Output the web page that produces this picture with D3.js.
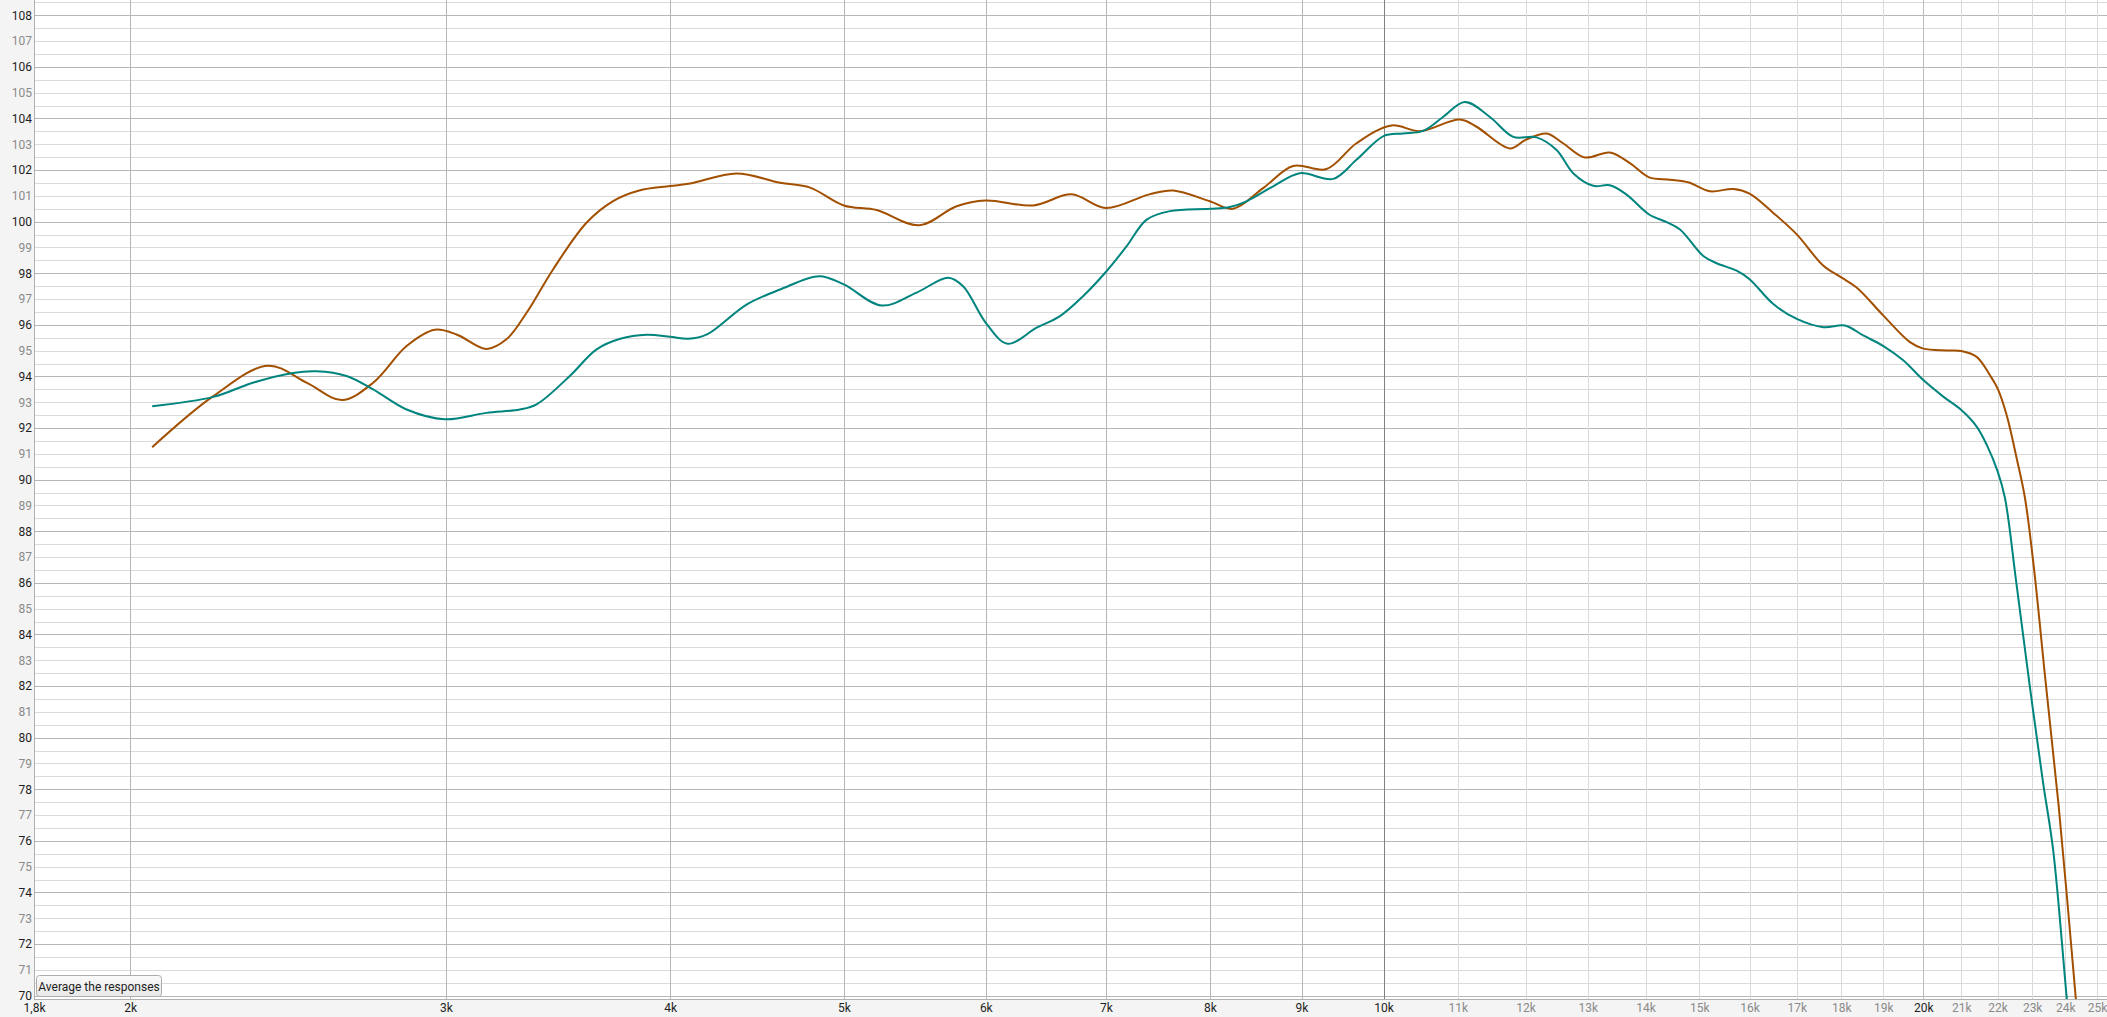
<!DOCTYPE html>
<html>
<head>
<meta charset="utf-8">
<script src="https://cdn.jsdelivr.net/npm/d3@7"></script>
<style>
  html, body { margin: 0; padding: 0; background: #f4f4f4; }
  svg { display: block; font-family: Roboto, "Noto Sans", sans-serif; }
</style>
</head>
<body>
<div id="chart"></div>
<script>
// frequency response, two measurements (Hz / dB SPL)
const brownFreq = [2057, 2225, 2387, 2508, 2625, 2732, 2852, 2957, 3041, 3160, 3242, 3327, 3442, 3593, 3718, 3845, 4000, 4105, 4357, 4607,
  4788, 5000, 5215, 5508, 5779, 6000, 6377, 6699, 7000, 7402, 7632, 8000, 8243, 8567, 8903, 9293, 9658, 10102, 10476, 11029,
  11268, 11761, 12000, 12328, 12593, 12949, 13372, 13720, 14064, 14447, 14800, 15207, 15669, 16000, 16495, 17000, 17592, 18000, 18358, 19000,
  19659, 20000, 20608, 21000, 21418, 21786, 22000, 22258, 22545, 22787, 23050, 23390, 23793, 24318, 24600];
const brownDb = [91.26, 93.24, 94.42, 93.76, 93.09, 93.76, 95.18, 95.81, 95.63, 95.07, 95.44, 96.47, 98.15, 99.96, 100.8, 101.21, 101.38, 101.48, 101.87, 101.51,
  101.32, 100.63, 100.45, 99.86, 100.6, 100.82, 100.63, 101.06, 100.53, 101.06, 101.21, 100.79, 100.5, 101.3, 102.16, 102.04, 103.04, 103.73, 103.51, 103.96,
  103.68, 102.84, 103.17, 103.42, 103.04, 102.49, 102.68, 102.27, 101.72, 101.63, 101.52, 101.18, 101.27, 101.09, 100.34, 99.51, 98.29, 97.84, 97.45, 96.36,
  95.33, 95.08, 95.01, 94.99, 94.76, 94.05, 93.54, 92.51, 90.84, 89.3, 86.6, 82.3, 77.4, 70.0, 66.0];

const tealFreq = [2057, 2225, 2341, 2465, 2540, 2640, 2732, 2852, 2995, 3160, 3298, 3370, 3517, 3640, 3752, 3881, 4000, 4096, 4194, 4413,
  4607, 4845, 5000, 5249, 5490, 5717, 5828, 6000, 6170, 6405, 6600, 6800, 7000, 7190, 7377, 7600, 8000, 8209, 8386, 8678,
  8980, 9373, 9658, 10000, 10253, 10521, 10794, 11100, 11463, 11811, 12171, 12488, 12757, 13089, 13372, 13662, 14064, 14385, 14633, 15077,
  15339, 15737, 16000, 16495, 17000, 17592, 18084, 18514, 19000, 19490, 20000, 20518, 21000, 21418, 21694, 22000, 22209, 22528, 22920, 23320,
  23628, 24038, 24300];
const tealDb = [92.85, 93.21, 93.76, 94.14, 94.2, 94.02, 93.5, 92.72, 92.34, 92.59, 92.72, 92.92, 94.02, 95.05, 95.46, 95.62, 95.54, 95.46, 95.63, 96.79,
  97.37, 97.89, 97.57, 96.75, 97.25, 97.83, 97.5, 96.08, 95.27, 95.89, 96.34, 97.12, 98.05, 99.05, 100.08, 100.41, 100.5, 100.57, 100.79, 101.37,
  101.88, 101.66, 102.4, 103.32, 103.42, 103.52, 104.06, 104.64, 104.06, 103.29, 103.27, 102.78, 101.88, 101.39, 101.41, 101.05, 100.28, 99.98, 99.7, 98.67,
  98.39, 98.1, 97.77, 96.81, 96.23, 95.91, 95.98, 95.59, 95.18, 94.63, 93.86, 93.22, 92.7, 92.06, 91.36, 90.33, 89.3, 86.1, 82.1, 78.3,
  75.65, 70.0, 66.5];

// axes
const freqMin = 1767.4, freqMax = 25320;
const dbMin = 69.872, dbMax = 108.593;
const xTickFreqs = [1767.4, 2000, 3000, 4000, 5000, 6000, 7000, 8000, 9000, 10000, 11000, 12000, 13000, 14000, 15000, 16000, 17000, 18000, 19000,
  20000, 21000, 22000, 23000, 24000, 25000];
const xTickLabels = ["1,8k", "2k", "3k", "4k", "5k", "6k", "7k", "8k", "9k", "10k", "11k", "12k", "13k", "14k", "15k", "16k", "17k", "18k", "19k",
  "20k", "21k", "22k", "23k", "24k", "25k"];
const yTickValues = d3.range(70, 109);
const buttonLabel = "Average the responses";

const W = 2107, H = 1017;
const left = 34, bottom = 999;

let svg = d3.select("#chart").append("svg").attr("width", W).attr("height", H);
svg.append("rect").attr("width", W).attr("height", H).attr("fill", "#f4f4f4");
svg.append("rect").attr("x", left).attr("y", 0).attr("width", W - left).attr("height", bottom).attr("fill", "#fff");

let x = d3.scaleLog().domain([freqMin, freqMax]).range([left, W]);
let y = d3.scaleLinear().domain([dbMin, dbMax]).range([bottom, 0]);

// grid colour by line
let vColor = f => {
  if (f === 10000) return "#808080";
  if (f === 20000) return "#bdbdbd";
  if (f < 10000) return "#b6b6b6";
  return "#dadada";
};
let hColor = d => (Number.isInteger(d) && d % 2 === 0 ? "#b6b6b6" : "#dadada");

let grid = svg.append("g").attr("shape-rendering", "crispEdges");
let hLines = d3.range(70, 108.75, 0.5);
let vLines = xTickFreqs.slice(1);

// light lines first, dark on top
let hOrder = d => (hColor(d) === "#dadada" ? 0 : 1);
grid.selectAll("line.h").data(hLines.slice().sort((a, b) => hOrder(a) - hOrder(b))).join("line")
  .attr("class", "h")
  .attr("x1", left).attr("x2", W)
  .attr("y1", d => Math.round(y(d)) + 0.5).attr("y2", d => Math.round(y(d)) + 0.5)
  .attr("stroke", hColor);

let vOrder = f => (vColor(f) === "#dadada" ? 0 : vColor(f) === "#808080" ? 2 : 1);
grid.selectAll("line.v").data(vLines.slice().sort((a, b) => vOrder(a) - vOrder(b))).join("line")
  .attr("class", "v")
  .attr("y1", 0).attr("y2", bottom)
  .attr("x1", d => Math.round(x(d)) + 0.5).attr("x2", d => Math.round(x(d)) + 0.5)
  .attr("stroke", vColor);

// frame
grid.append("line").attr("x1", left + 0.5).attr("x2", left + 0.5).attr("y1", 0).attr("y2", bottom).attr("stroke", "#b0b0b0");
grid.append("line").attr("x1", left).attr("x2", W).attr("y1", bottom + 0.5).attr("y2", bottom + 0.5).attr("stroke", "#b0b0b0");

// curves
svg.append("clipPath").attr("id", "plotClip")
  .append("rect").attr("x", left).attr("y", 0).attr("width", W - left).attr("height", bottom);

let line = d3.line()
  .x(d => x(d[0]))
  .y(d => y(d[1]))
  .curve(d3.curveCatmullRom.alpha(0.5));

let series = [
  {freq: brownFreq, db: brownDb, color: "#a25000"},
  {freq: tealFreq, db: tealDb, color: "#00847e"}
];
let curves = svg.append("g").attr("clip-path", "url(#plotClip)");
series.forEach(s => {
  curves.append("path")
    .datum(s.freq.map((f, i) => [f, s.db[i]]))
    .attr("fill", "none")
    .attr("stroke", s.color)
    .attr("stroke-width", 2)
    .attr("stroke-linejoin", "round")
    .attr("d", line);
});

// y axis labels
let yAxis = svg.append("g").attr("transform", `translate(${left - 2},0)`)
  .call(d3.axisLeft(y).tickValues(yTickValues).tickSize(0).tickPadding(0).tickFormat(d => d));
yAxis.select(".domain").remove();
yAxis.selectAll("text")
  .attr("font-size", 12)
  .attr("font-family", "Roboto, 'Noto Sans', sans-serif")
  .attr("fill", d => (d % 2 === 0 ? "#1e1e1e" : "#8a8a8a"));

// x axis labels
let labelOf = new Map(xTickFreqs.map((f, i) => [f, xTickLabels[i]]));
let darkX = f => f <= 10000 || f === 20000;
let xAxis = svg.append("g").attr("transform", `translate(0,${bottom})`)
  .call(d3.axisBottom(x).tickValues(xTickFreqs).tickSize(0).tickPadding(4).tickFormat(f => labelOf.get(f)));
xAxis.select(".domain").remove();
xAxis.selectAll("text")
  .attr("font-size", 12)
  .attr("font-family", "Roboto, 'Noto Sans', sans-serif")
  .attr("fill", d => (darkX(d) ? "#1e1e1e" : "#8a8a8a"));

// button
let defs = svg.append("defs");
let grad = defs.append("linearGradient").attr("id", "btnGrad").attr("x1", 0).attr("y1", 0).attr("x2", 0).attr("y2", 1);
grad.append("stop").attr("offset", "0%").attr("stop-color", "#fafafa");
grad.append("stop").attr("offset", "100%").attr("stop-color", "#e8e8e8");
let btn = svg.append("g").attr("transform", "translate(36.5,975.5)");
btn.append("rect").attr("width", 125).attr("height", 21).attr("rx", 3)
  .attr("fill", "url(#btnGrad)").attr("stroke", "#adadad");
btn.append("text").attr("x", 62.5).attr("y", 15).attr("text-anchor", "middle")
  .attr("font-size", 12).attr("fill", "#1e1e1e").text(buttonLabel);
</script>
</body>
</html>
